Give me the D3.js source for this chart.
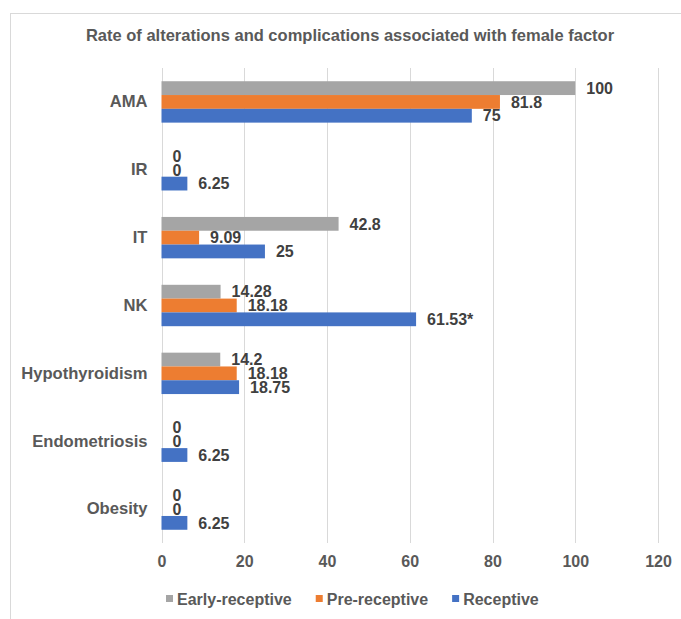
<!DOCTYPE html>
<html>
<head>
<meta charset="utf-8">
<script src="https://cdn.jsdelivr.net/npm/d3@7"></script>
<style>
  html, body { margin: 0; padding: 0; background: #fff; }
  svg { display: block; font-family: "Liberation Sans", Arial, sans-serif; }
</style>
</head>
<body>
<svg id="chart" width="681" height="619"></svg>
<script>
// Categories, top to bottom
const categories = ["AMA", "IR", "IT", "NK", "Hypothyroidism", "Endometriosis", "Obesity"];
// Series names (legend order, also bar order within each group)
const seriesNames = ["Early-receptive", "Pre-receptive", "Receptive"];
const seriesColors = ["#A5A5A5", "#ED7D31", "#4472C4"];
// Rate (%) per category, one array per series
const earlyReceptive = [100, 0, 42.8, 14.28, 14.2, 0, 0];
const preReceptive   = [81.8, 0, 9.09, 18.18, 18.18, 0, 0];
const receptive      = [75, 6.25, 25, 61.53, 18.75, 6.25, 6.25];
// Significance markers appended to the value labels of the Receptive series
const receptiveMarks = ["", "", "", "*", "", "", ""];
const xTicks = [0, 20, 40, 60, 80, 100, 120];
const title = "Rate of alterations and complications associated with female factor";

const seriesValues = [earlyReceptive, preReceptive, receptive];
const seriesMarks = [categories.map(() => ""), categories.map(() => ""), receptiveMarks];

const svg = d3.select("#chart");

// outer chart frame
svg.append("rect")
  .attr("x", 10.5).attr("y", 13.5)
  .attr("width", 720).attr("height", 700)
  .attr("fill", "none").attr("stroke", "#D9D9D9").attr("stroke-width", 1);

// title
svg.append("text")
  .attr("x", 350).attr("y", 41)
  .attr("text-anchor", "middle")
  .attr("font-size", 16.5).attr("font-weight", "bold")
  .attr("fill", "#595959")
  .text(title);

const x = d3.scaleLinear().domain([0, 120]).range([161.5, 658]);
const y = d3.scaleBand().domain(categories).range([68, 543])
  .paddingInner(0.39).paddingOuter(0.195);
const ySub = d3.scaleBand().domain(seriesNames).range([0, y.bandwidth()]);

// vertical gridlines
svg.append("g").selectAll("line").data(xTicks).join("line")
  .attr("x1", d => Math.round(x(d)) + 0.5).attr("x2", d => Math.round(x(d)) + 0.5)
  .attr("y1", 68).attr("y2", 543)
  .attr("stroke", "#D9D9D9").attr("stroke-width", 1);

// x axis tick labels
const xAxis = d3.axisBottom(x).tickValues(xTicks).tickSize(0).tickPadding(0);
const gx = svg.append("g").attr("transform", "translate(0,556)").call(xAxis);
gx.select(".domain").remove();
gx.selectAll("text")
  .attr("dy", "0.71em").attr("y", 0)
  .attr("font-size", 16).attr("font-weight", "bold")
  .attr("font-family", "Liberation Sans, Arial, sans-serif")
  .attr("fill", "#595959");

// category labels
const yAxis = d3.axisLeft(y).tickSize(0).tickPadding(14);
const gy = svg.append("g").attr("transform", "translate(161.5,0)").call(yAxis);
gy.select(".domain").remove();
gy.selectAll("text")
  .attr("font-size", 16.6).attr("font-weight", "bold")
  .attr("font-family", "Liberation Sans, Arial, sans-serif")
  .attr("fill", "#595959");

// bars and value labels
const rows = [];
seriesNames.forEach((s, si) => {
  categories.forEach((c, ci) => {
    rows.push({ series: s, si, cat: c, value: seriesValues[si][ci], mark: seriesMarks[si][ci] });
  });
});

svg.append("g").selectAll("rect").data(rows.filter(d => d.value > 0)).join("rect")
  .attr("x", x(0))
  .attr("y", d => y(d.cat) + ySub(d.series))
  .attr("width", d => x(d.value) - x(0))
  .attr("height", ySub.bandwidth())
  .attr("fill", d => seriesColors[d.si]);

svg.append("g").selectAll("text").data(rows).join("text")
  .attr("x", d => x(d.value) + 11)
  .attr("y", d => y(d.cat) + ySub(d.series) + ySub.bandwidth() / 2)
  .attr("dy", "0.36em")
  .attr("font-size", 16).attr("font-weight", "bold")
  .attr("fill", "#404040")
  .text(d => String(d.value) + d.mark);

// legend
const legend = svg.append("g").attr("transform", "translate(166,599)");
let lx = 0;
seriesNames.forEach((s, i) => {
  const g = legend.append("g").attr("transform", `translate(${lx},0)`);
  g.append("rect").attr("x", 0).attr("y", -4).attr("width", 7).attr("height", 7)
    .attr("fill", seriesColors[i]);
  const t = g.append("text").attr("x", 11).attr("dy", "0.36em")
    .attr("font-size", 16).attr("font-weight", "bold")
    .attr("fill", "#595959").text(s);
  lx += 11 + t.node().getComputedTextLength() + 24;
});
</script>
</body>
</html>
